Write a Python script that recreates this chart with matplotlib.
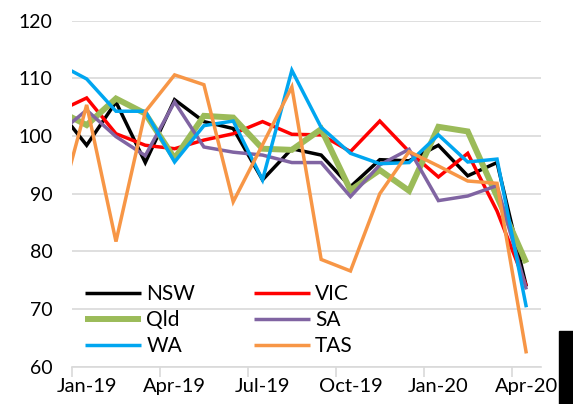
import matplotlib
matplotlib.use("Agg")
import matplotlib.pyplot as plt
from matplotlib.ticker import FixedLocator
from matplotlib.patches import Rectangle

plt.rcParams['font.family'] = ['Lato', 'DejaVu Sans']

# months from Dec-18 (clipped at left edge) to Apr-20
months = ["Dec-18", "Jan-19", "Feb-19", "Mar-19", "Apr-19", "May-19", "Jun-19",
          "Jul-19", "Aug-19", "Sep-19", "Oct-19", "Nov-19", "Dec-19",
          "Jan-20", "Feb-20", "Mar-20", "Apr-20"]

nsw = [104.8, 98.4, 105.9, 95.4, 106.3, 102.5, 101.3, 92.4, 97.8, 96.7,
       91.2, 95.9, 95.7, 98.4, 93.1, 95.4, 73.9]
vic = [104.2, 106.6, 100.4, 98.4, 97.8, 99.3, 100.4, 102.5, 100.3, 100.2,
       97.3, 102.6, 97.3, 92.9, 97.0, 87.0, 74.0]
qld = [104.5, 101.9, 106.5, 103.9, 96.1, 103.5, 103.2, 97.8, 97.6, 101.2,
       90.6, 94.1, 90.5, 101.6, 100.8, 89.5, 78.0]
sa = [100.3, 104.5, 99.9, 96.6, 105.9, 98.1, 97.2, 96.7, 95.4, 95.4,
      89.5, 95.0, 97.7, 88.8, 89.6, 91.4, 73.4]
wa = [112.6, 109.9, 104.3, 104.3, 95.5, 101.8, 102.6, 92.4, 111.4, 101.5,
      97.0, 95.2, 95.4, 100.2, 95.5, 96.0, 70.3]
tas = [86.4, 105.4, 81.7, 104.2, 110.6, 108.9, 88.6, 98.5, 108.5, 78.6,
       76.6, 90.0, 97.3, 94.8, 92.2, 91.8, 62.3]

series = [
    ("NSW", nsw, "#000000", 2.5),
    ("VIC", vic, "#FF0000", 2.5),
    ("Qld", qld, "#9BBB59", 4.3),
    ("SA", sa, "#8064A2", 2.5),
    ("WA", wa, "#00A6F0", 2.5),
    ("TAS", tas, "#F79646", 2.5),
]

x = list(range(-1, len(months) - 1))

fig = plt.figure(figsize=(5.73, 4.04), dpi=100)
ax = fig.add_axes([72 / 573, 1 - 366.7 / 404, 469 / 573, 346 / 404])

handles = {}
for name, vals, color, lw in series:
    line, = ax.plot(x, vals, color=color, lw=lw, label=name,
                    solid_joinstyle="miter", solid_capstyle="butt")
    handles[name] = line

ax.set_xlim(-0.5, 15.5)
ax.set_ylim(60, 120)
ax.set_yticks(range(60, 121, 10))
ax.yaxis.grid(True, color="#d9d9d9", lw=1.2)
ax.set_axisbelow(True)
ax.tick_params(axis="y", length=0, pad=14, labelsize=14)

# tick marks between categories, labels on every third month
ax.xaxis.set_major_locator(FixedLocator([-0.5, 2.5, 5.5, 8.5, 11.5, 14.5]))
ax.set_xticklabels([])
ax.xaxis.set_minor_locator(FixedLocator(range(0, 16, 3)))
ax.set_xticklabels([months[i + 1] for i in range(0, 16, 3)], minor=True)
ax.tick_params(axis="x", which="major", length=7, width=1.2, color="#d9d9d9")
ax.tick_params(axis="x", which="minor", length=0, pad=8, labelsize=14.5)

for s in ["top", "right", "left"]:
    ax.spines[s].set_visible(False)
ax.spines["bottom"].set_color("#d9d9d9")
ax.spines["bottom"].set_linewidth(1.2)

order = ["NSW", "Qld", "WA", "VIC", "SA", "TAS"]
ax.legend([handles[n] for n in order], order, ncol=2, frameon=False,
          loc="upper left", bbox_to_anchor=(85 / 573, 1 - 284 / 404),
          bbox_transform=fig.transFigure, borderpad=0, borderaxespad=0,
          fontsize=15, handlelength=2.7, handletextpad=0.25,
          columnspacing=2.8, labelspacing=0.3)

# dark block at the lower right edge of the source image
fig.patches.append(Rectangle((559 / 573, 0), 14 / 573, 73 / 404,
                             transform=fig.transFigure, color="black"))

fig.savefig("out.png", dpi=100)
